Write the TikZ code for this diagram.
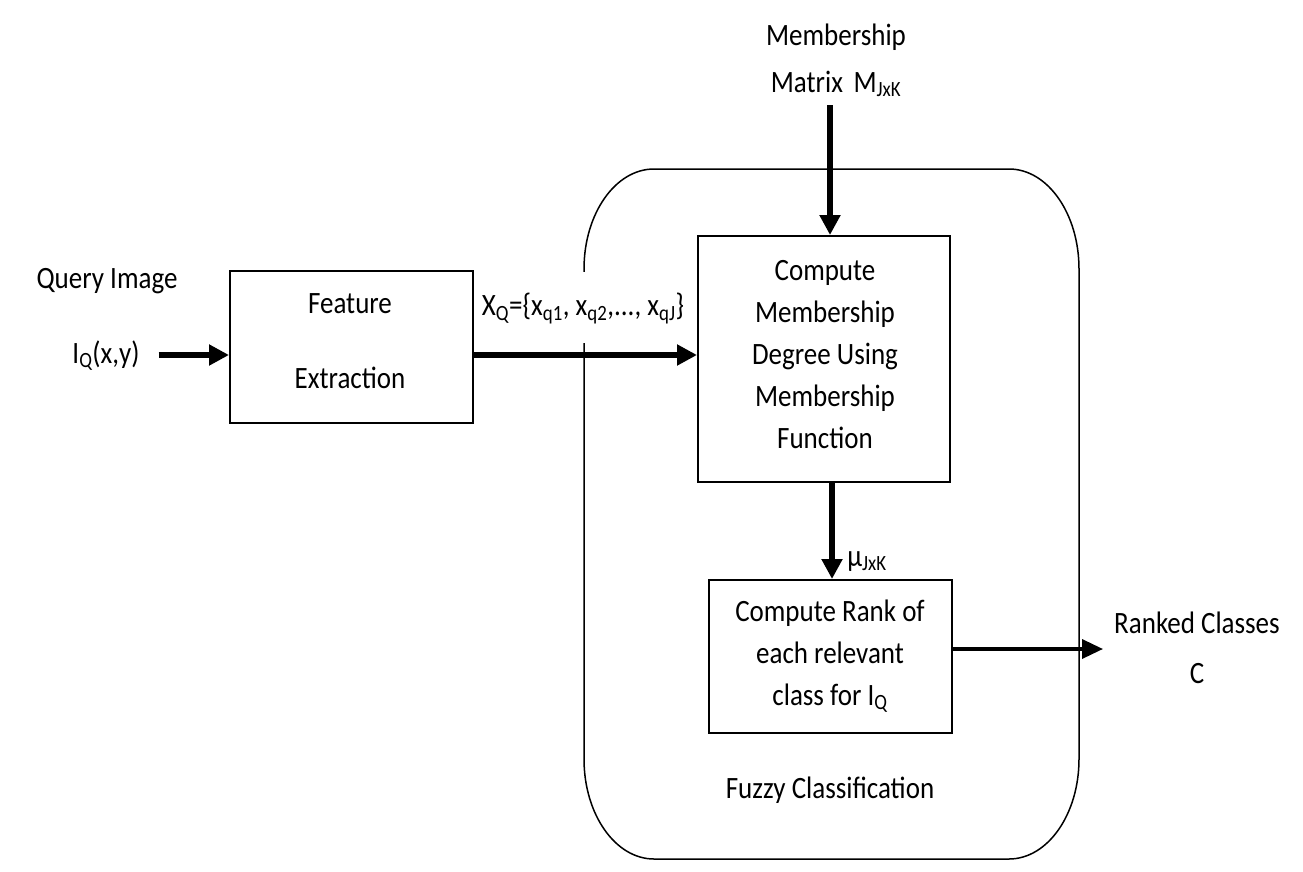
\documentclass[tikz,border=0pt]{standalone}
\usepackage{fontspec}
\usepackage{graphicx}
\setmainfont{Carlito}
\usetikzlibrary{arrows.meta}
\newcommand\sbs[1]{\textsubscript{#1}}
\newcommand\vt[1]{\scalebox{1}[1.15]{\begin{tabular}{@{}c@{}}#1\end{tabular}}}
\begin{document}
\begin{tikzpicture}[x=1pt,y=-1pt,
  every node/.style={font=\fontsize{27}{36.5}\selectfont, inner sep=0pt},
  box/.style={draw, line width=2pt},
  arr/.style={line width=5.5pt, -{Triangle[length=20pt,width=20pt]}},
  arrthin/.style={line width=3.5pt, -{Triangle[length=21pt,width=19pt]}},
  group/.style={draw, line width=1.5pt}]
\useasboundingbox[fill=white] (0,0) rectangle (1303,872);
% fuzzy classification group
\draw[group] (584,759) .. controls (584,814.2) and (615.3,859) .. (654,859)
  -- (1009,859) .. controls (1047.7,859) and (1079,814.2) .. (1079,759)
  -- (1079,269) .. controls (1079,213.8) and (1047.7,169) .. (1009,169)
  -- (654,169) .. controls (615.3,169) and (584,213.8) .. (584,269) -- cycle;
\node (fuzzy) at (830,790) {\vt{Fuzzy Classification}};
% boxes
\node[box, minimum width=243pt, minimum height=152pt] (feat) at (351.5,347) {};
\node (feattxt) at (350,342.5) {\vt{Feature\\[28.7pt]Extraction}};
\node[box, minimum width=252pt, minimum height=246pt] (comp) at (824,359) {};
\node (comptxt) at (825,356) {\vt{Compute\\Membership\\Degree Using\\Membership\\Function}};
\node[box, minimum width=243pt, minimum height=153pt] (rank) at (830.5,656.5) {};
\node (ranktxt) at (830,655) {\vt{Compute Rank of\\each relevant\\class for I\sbs{Q}}};
% labels
\node (query) at (107,280) {\vt{Query Image}};
\node (iq) at (106,355) {\vt{I\sbs{Q}(x,y)}};
\node (mm) at (836,60.5) {\vt{Membership\\[4.4pt]Matrix \,M\sbs{JxK}}};
\node[fill=white, minimum height=71pt] (xq) at (583,307.5) {\vt{X\sbs{Q}=\{x\sbs{q1}, x\sbs{q2},..., x\sbs{qJ}\}}};
\node (mu) at (867,558) {\vt{\textmu\sbs{JxK}}};
\node (ranked) at (1197,650) {\vt{Ranked Classes\\[7pt]C}};
\coordinate (outend) at (1103,649);
% connectors
\draw[arr, shorten <=19pt] (iq.east) -- (iq.east -| feat.west);
\draw[arr] (feat.east |- iq.east) -- (comp.west |- iq.east);
\draw[arr] ([xshift=6pt]comp.north |- mm.south) -- ([xshift=6pt]comp.north);
\draw[arr] ([xshift=1.5pt]rank.north |- comp.south) -- ([xshift=1.5pt]rank.north);
\draw[arrthin] (rank.east |- outend) -- (outend);
\end{tikzpicture}
\end{document}
